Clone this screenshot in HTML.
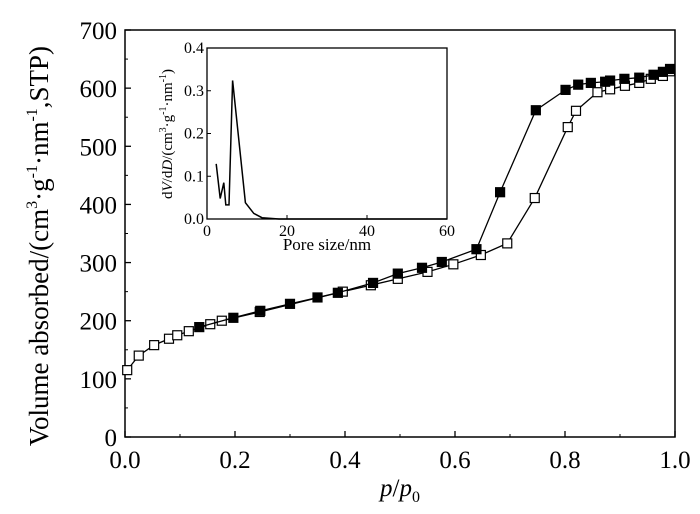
<!DOCTYPE html>
<html><head><meta charset="utf-8"><style>
body{margin:0;background:#fff;}
svg text{font-family:"Liberation Serif",serif;fill:#000;}
</style></head><body>
<svg id="chart" width="700" height="509" xmlns="http://www.w3.org/2000/svg">
<g id="main"></g><g id="inset"></g>
</svg>
<script>
const adsP=[0.004,0.025,0.053,0.08,0.095,0.116,0.155,0.176,0.245,0.396,0.447,0.496,0.55,0.597,0.647,0.695,0.745,0.805,0.82,0.859,0.882,0.909,0.935,0.956,0.978,0.991];
const adsV=[115,140,158,169,175,182,194,200,215,250,261,272,284,297,313,333,411,533,561,593,598,604,609,616,621,629];
const desP=[0.991,0.978,0.961,0.935,0.908,0.882,0.873,0.847,0.824,0.801,0.747,0.682,0.639,0.576,0.54,0.496,0.451,0.387,0.35,0.3,0.246,0.197,0.135];
const desV=[633,628,623,618,616,613,611,609,606,597,562,421,323,301,291,281,265,248,240,229,217,205,189];
const mainXTicks=[0,0.2,0.4,0.6,0.8,1.0];
const mainXLabels=["0.0","0.2","0.4","0.6","0.8","1.0"];
const mainYTicks=[0,100,200,300,400,500,600,700];
const poreD=[2.3,3.3,4.2,4.7,5.5,6.4,9.6,11.7,13.75,18,60];
const poreV=[0.129,0.048,0.085,0.033,0.033,0.324,0.038,0.013,0.003,0,0];
const insetXTicks=[0,20,40,60];
const insetYTicks=[0,0.1,0.2,0.3,0.4];
const insetYLabels=["0.0","0.1","0.2","0.3","0.4"];

const NS="http://www.w3.org/2000/svg";
function mk(parent,tag,attrs,text){const e=document.createElementNS(NS,tag);for(const k in attrs)e.setAttribute(k,attrs[k]);if(text!==undefined)e.textContent=text;parent.appendChild(e);return e;}
const X0=125,X1=675,Y0=437,Y1=30;
const sx=v=>X0+(X1-X0)*v;
const sy=v=>Y0-(Y0-Y1)*v/700;
const M=document.getElementById('main');
let fr=mk(M,'rect',{x:X0,y:Y1,width:X1-X0,height:Y0-Y1,fill:'none',stroke:'#000','stroke-width':1.5});

mainXTicks.forEach((t,i)=>{
 mk(M,'line',{x1:sx(t),x2:sx(t),y1:Y0,y2:Y0-6,stroke:'#000','stroke-width':1.3});
 if(i<mainXTicks.length-1) mk(M,'line',{x1:sx(t+0.1),x2:sx(t+0.1),y1:Y0,y2:Y0-3,stroke:'#000'});
 const tx=mk(M,'text',{x:sx(t),y:Y0+31,'text-anchor':'middle','font-size':25},mainXLabels[i]);
 
});
mainYTicks.forEach((t,i)=>{
 mk(M,'line',{x1:X0,x2:X0+6,y1:sy(t),y2:sy(t),stroke:'#000','stroke-width':1.3});
 if(i<mainYTicks.length-1) mk(M,'line',{x1:X0,x2:X0+3,y1:sy(t+50),y2:sy(t+50),stroke:'#000'});
 const tx=mk(M,'text',{x:X0-8,y:sy(t)+9,'text-anchor':'end','font-size':25},String(t));
 
});
let xl=mk(M,'text',{x:400,y:496,'text-anchor':'middle','font-size':25});
xl.innerHTML='<tspan font-style="italic">p</tspan>/<tspan font-style="italic">p</tspan><tspan font-size="16" dy="6">0</tspan>';

let yl=mk(M,'text',{x:0,y:0,'text-anchor':'middle','font-size':27,transform:'translate(48,246) rotate(-90)'});
yl.innerHTML='Volume absorbed/(cm<tspan font-size="16" dy="-11">3</tspan><tspan dy="11">·g</tspan><tspan font-size="16" dy="-11">-1</tspan><tspan dy="11">·nm</tspan><tspan font-size="16" dy="-11">-1</tspan><tspan dy="11">,STP)</tspan>';

function series(P,V,fill,name){
 let d=P.map((p,i)=>(i?'L':'M')+sx(p)+','+sy(V[i])).join('');
 const l=mk(M,'path',{d:d,fill:'none',stroke:'#000','stroke-width':1.3});
 
 P.forEach((p,i)=>{const r=mk(M,'rect',{x:sx(p)-4.5,y:sy(V[i])-4.5,width:9,height:9,fill:fill,stroke:'#000','stroke-width':1.2});
 });
}
series(adsP,adsV,'#fff','adsorption');
series(desP,desV,'#000','desorption');

const I=document.getElementById('inset');
const IX0=207,IX1=447,IY0=219,IY1=48;
const ix=v=>IX0+(IX1-IX0)*v/60;
const iy=v=>IY0-(IY0-IY1)*v/0.4;
let ibg=mk(I,'rect',{x:IX0,y:IY1,width:IX1-IX0,height:IY0-IY1,fill:'#fff',stroke:'#000','stroke-width':1.3});

insetXTicks.forEach(t=>{mk(I,'line',{x1:ix(t),x2:ix(t),y1:IY0,y2:IY0-4,stroke:'#000'});
 const tx=mk(I,'text',{x:ix(t),y:IY0+17,'text-anchor':'middle','font-size':16},String(t));
 });
insetYTicks.forEach((t,i)=>{mk(I,'line',{x1:IX0,x2:IX0+4,y1:iy(t),y2:iy(t),stroke:'#000'});
 const tx=mk(I,'text',{x:IX0-3,y:iy(t)+5,'text-anchor':'end','font-size':16},insetYLabels[i]);
 });
let ixl=mk(I,'text',{x:327,y:250,'text-anchor':'middle','font-size':17},'Pore size/nm');

let iyl=mk(I,'text',{x:0,y:0,'text-anchor':'middle','font-size':15,transform:'translate(172,134) rotate(-90)'});
iyl.innerHTML='d<tspan font-style="italic">V</tspan>/d<tspan font-style="italic">D</tspan>/(cm<tspan font-size="10" dy="-6">3</tspan><tspan dy="6">·g</tspan><tspan font-size="10" dy="-6">-1</tspan><tspan dy="6">·nm</tspan><tspan font-size="10" dy="-6">-1</tspan><tspan dy="6">)</tspan>';

let ip=mk(I,'path',{d:poreD.map((p,i)=>(i?'L':'M')+ix(p)+','+iy(poreV[i])).join(''),fill:'none',stroke:'#000','stroke-width':1.5});

</script>
</body></html>
